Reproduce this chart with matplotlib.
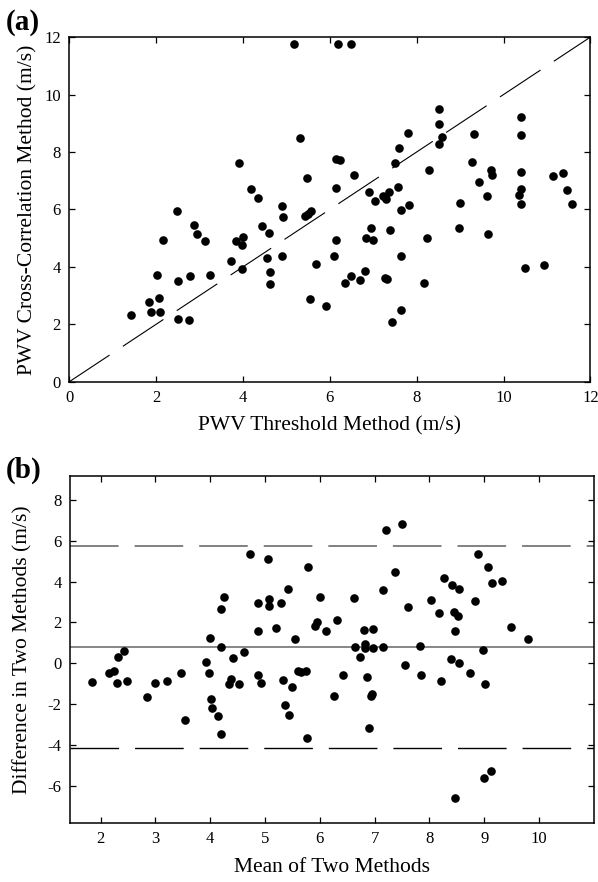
import matplotlib
matplotlib.use('Agg')
import matplotlib.pyplot as plt

plt.rcParams['font.family'] = 'Liberation Serif'
plt.rcParams['axes.unicode_minus'] = False
plt.rcParams['lines.scale_dashes'] = False

# panel (a): threshold method vs cross-correlation method
thr_x = [5.17, 6.19, 6.49, 5.31, 3.92, 5.48, 4.18, 4.36, 2.49, 4.91, 4.93, 5.43, 5.50, 5.56,
         2.88, 2.95, 3.14, 2.17, 3.85, 4.01, 3.99, 4.45, 4.61, 4.56, 4.91, 3.72, 3.97, 4.62,
         4.62, 2.03, 2.51, 2.79, 3.25, 1.84, 2.06, 1.89, 2.10, 1.42, 2.50, 2.75, 5.68, 5.55,
         5.91, 8.52, 8.52, 8.58, 8.52, 7.80, 7.59, 7.50, 9.33, 10.39, 10.39, 9.27, 8.28, 9.70,
         9.73, 9.43, 10.39, 11.14, 11.36, 11.45, 11.58, 10.39, 10.36, 10.39, 9.61, 9.00, 6.56,
         6.15, 6.23, 6.15, 6.91, 7.05, 7.23, 7.30, 7.36, 7.58, 7.65, 7.83, 6.15, 6.10, 6.95,
         6.84, 6.99, 7.38, 7.63, 8.24, 8.98, 9.64, 6.80, 6.50, 6.36, 6.70, 7.27, 7.31, 8.17,
         7.63, 7.43, 10.49, 10.94]
xcorr_y = [11.77, 11.77, 11.77, 8.47, 7.62, 7.10, 6.71, 6.40, 5.95, 6.12, 5.75, 5.78, 5.85, 5.96,
           5.47, 5.15, 4.92, 4.93, 4.89, 5.05, 4.78, 5.44, 5.19, 4.32, 4.37, 4.22, 3.93, 3.82,
           3.40, 3.71, 3.50, 3.70, 3.71, 2.79, 2.92, 2.43, 2.43, 2.32, 2.19, 2.16, 4.09, 2.88,
           2.65, 9.51, 8.96, 8.52, 8.28, 8.65, 8.14, 7.62, 8.63, 9.22, 8.58, 7.65, 7.38, 7.37,
           7.20, 6.95, 7.30, 7.17, 7.28, 6.68, 6.19, 6.70, 6.50, 6.19, 6.46, 6.23, 7.19,
           7.76, 7.72, 6.74, 6.62, 6.29, 6.47, 6.37, 6.62, 6.77, 5.99, 6.15, 4.95, 4.37, 5.36,
           5.02, 4.94, 5.28, 4.39, 5.02, 5.37, 5.15, 3.85, 3.68, 3.43, 3.54, 3.62, 3.58, 3.43,
           2.51, 2.08, 3.95, 4.08]

# panel (b): Bland-Altman
mean_x = [4.73, 5.05, 5.78, 5.42, 4.26, 4.19, 4.87, 5.08, 5.07, 5.30, 6.01, 5.94, 5.92, 6.12,
          4.87, 5.20, 5.54, 3.99, 4.19, 4.62, 4.42, 3.93, 3.97, 4.37, 4.35, 4.52, 4.88, 4.92,
          5.32, 5.50, 5.60, 5.65, 5.75, 5.37, 5.44, 5.76, 4.02, 4.03, 4.15, 4.20, 3.54, 2.85,
          1.85, 2.15, 2.24, 2.30, 2.32, 2.43, 2.48, 2.99, 3.21, 3.46,
          7.20, 7.50, 8.88, 9.06, 9.15, 9.32, 7.38, 7.16, 8.27, 8.41, 8.54, 8.84, 8.03, 7.60,
          8.17, 8.45, 8.52, 8.46, 9.48, 9.80, 6.62, 6.32, 6.81, 6.97,
          6.64, 6.83, 6.83, 6.97, 7.15, 7.82, 6.74, 6.43, 6.86, 6.26, 6.93, 6.96, 6.89, 7.55,
          7.85, 8.21, 8.40, 8.54, 8.74, 9.01, 8.98, 8.99, 9.13, 8.47]
diff_y = [5.37, 5.11, 4.70, 3.66, 3.27, 2.68, 2.93, 3.16, 2.80, 2.94, 3.23, 2.01, 1.82, 1.59,
          1.59, 1.74, 1.20, 1.25, 0.81, 0.57, 0.24, 0.05, -0.49, -0.77, -1.02, -1.02, -0.59, -0.96,
          -0.81, -1.17, -0.36, -0.42, -0.39, -2.03, -2.52, -3.67, -1.74, -2.16, -2.55, -3.45, -2.75, -1.66,
          -0.89, -0.49, -0.36, -0.94, 0.31, 0.63, -0.85, -0.96, -0.88, -0.47,
          6.50, 6.84, 5.33, 4.73, 3.95, 4.03, 4.46, 3.58, 4.18, 3.82, 3.66, 3.06, 3.12, 2.75,
          2.47, 2.49, 2.31, 1.59, 1.77, 1.17, 3.20, 2.10, 1.63, 1.68,
          0.78, 0.93, 0.77, 0.77, 0.78, 0.86, 0.29, -0.59, -0.65, -1.61, -1.61, -1.51, -3.15, -0.10,
          -0.59, -0.88, 0.21, 0.03, -0.47, -0.99, 0.67, -5.58, -5.27, -6.59]
bias = 0.8
upper_loa = 5.73
lower_loa = -4.14

dash = (0, (35, 11.5))

fig = plt.figure(figsize=(5.98, 8.82), dpi=100)
ax1 = fig.add_axes([0.1154, 0.567, 0.872, 0.391])
ax2 = fig.add_axes([0.117, 0.067, 0.876, 0.393])

for ax in (ax1, ax2):
    for s in ax.spines.values():
        s.set_linewidth(1.1)
    ax.tick_params(direction='in', top=True, right=True, length=4, width=0.9,
                   labelsize=12, pad=6)

ax1.plot([0, 12], [0, 12], color='black', lw=0.8, linestyle=dash)
ax1.plot(thr_x, xcorr_y, 'o', color='black', ms=6.2, mew=0)
ax1.set_xlim(0, 12)
ax1.set_ylim(0, 12)
ax1.set_xticks(range(0, 13, 2))
ax1.set_yticks(range(0, 13, 2))
ax1.set_xlabel('PWV Threshold Method (m/s)', fontsize=15.5, labelpad=7)
ax1.set_ylabel('PWV Cross-Correlation Method (m/s)', fontsize=15.5, labelpad=5)

ax2.axhline(upper_loa, color='#777777', lw=1.3, linestyle=dash)
ax2.axhline(bias, color='#666666', lw=1.1)
ax2.axhline(lower_loa, color='black', lw=1.0, linestyle=dash)
ax2.plot(mean_x, diff_y, 'o', color='black', ms=6.2, mew=0)
ax2.set_xlim(1.44, 11)
ax2.set_ylim(-7.8, 9.15)
ax2.set_xticks(range(2, 11))
ax2.set_yticks(range(-6, 9, 2))
ax2.set_xlabel('Mean of Two Methods', fontsize=15.5, labelpad=8)
ax2.set_ylabel('Difference in Two Methods (m/s)', fontsize=15.5, labelpad=11)

fig.text(0.01, 1 - 22 / 882, '(a)', fontsize=21, fontweight='bold', va='center')
fig.text(0.01, 1 - 470 / 882, '(b)', fontsize=21, fontweight='bold', va='center')

fig.savefig('out.png', dpi=100)
